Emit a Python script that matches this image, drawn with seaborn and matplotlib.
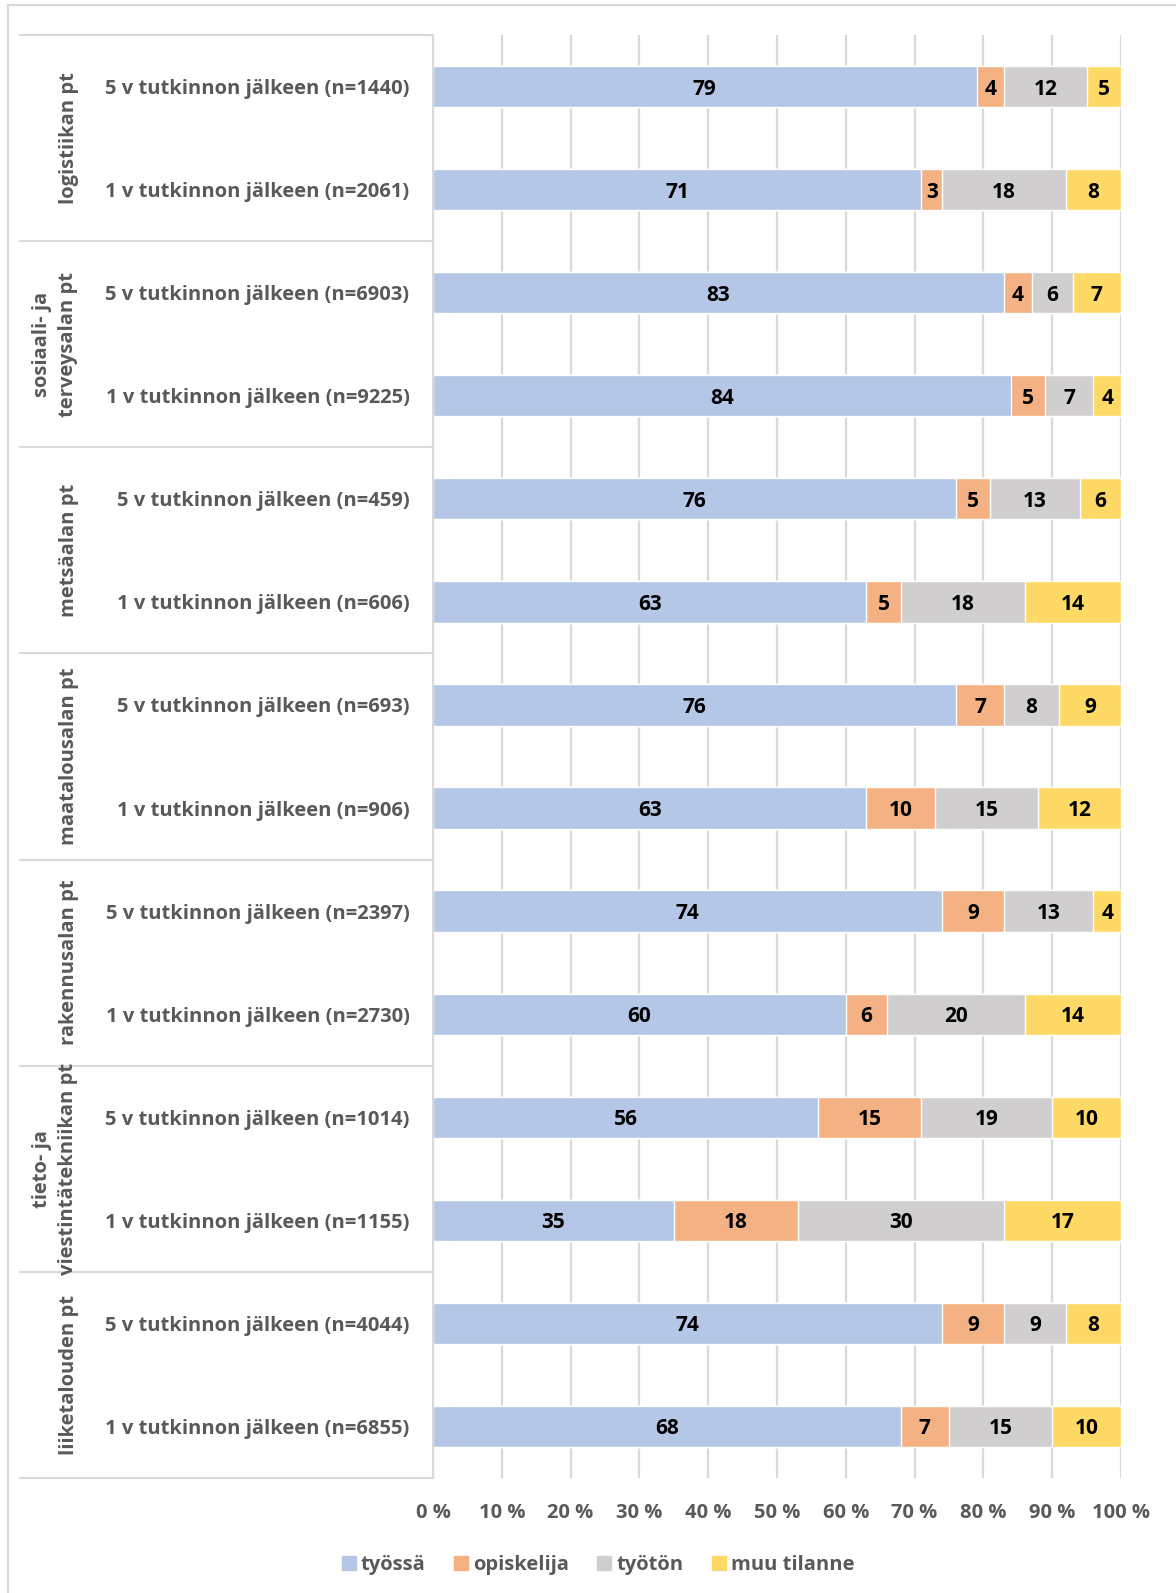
import matplotlib.pyplot as plt
import pandas as pd
import seaborn as sns
from matplotlib.lines import Line2D
from matplotlib.patches import Patch

groups = ['logistiikan pt', 'sosiaali- ja\nterveysalan pt', 'metsäalan pt', 'maatalousalan pt',
          'rakennusalan pt', 'tieto- ja\nviestintätekniikan pt', 'liiketalouden pt']
rows = ['5 v tutkinnon jälkeen (n=1440)', '1 v tutkinnon jälkeen (n=2061)',
        '5 v tutkinnon jälkeen (n=6903)', '1 v tutkinnon jälkeen (n=9225)',
        '5 v tutkinnon jälkeen (n=459)', '1 v tutkinnon jälkeen (n=606)',
        '5 v tutkinnon jälkeen (n=693)', '1 v tutkinnon jälkeen (n=906)',
        '5 v tutkinnon jälkeen (n=2397)', '1 v tutkinnon jälkeen (n=2730)',
        '5 v tutkinnon jälkeen (n=1014)', '1 v tutkinnon jälkeen (n=1155)',
        '5 v tutkinnon jälkeen (n=4044)', '1 v tutkinnon jälkeen (n=6855)']
tyossa = [79, 71, 83, 84, 76, 63, 76, 63, 74, 60, 56, 35, 74, 68]
opiskelija = [4, 3, 4, 5, 5, 5, 7, 10, 9, 6, 15, 18, 9, 7]
tyoton = [12, 18, 6, 7, 13, 18, 8, 15, 13, 20, 19, 30, 9, 15]
muu = [5, 8, 7, 4, 6, 14, 9, 12, 4, 14, 10, 17, 8, 10]

series = ['työssä', 'opiskelija', 'työtön', 'muu tilanne']
colors = ['#B4C7E7', '#F4B183', '#D0CECE', '#FFD966']
grid_col = '#D9D9D9'
txt_col = '#595959'
FS = 14.5

sns.set_style('white')
plt.rcParams['font.family'] = ['Open Sans', 'DejaVu Sans']
plt.rcParams['font.weight'] = 'bold'

df = pd.DataFrame({'row': rows, 'työssä': tyossa, 'opiskelija': opiskelija,
                   'työtön': tyoton, 'muu tilanne': muu})
cum = df[series].cumsum(axis=1)

fig = plt.figure(figsize=(11.76, 15.93), dpi=100)
W, H = 1176, 1593
ax = fig.add_axes([433 / W, 1 - 1478 / H, (1121 - 433) / W, (1478 - 35) / H])

# stacked bars: draw cumulative totals from the largest down
for i in range(len(series) - 1, -1, -1):
    sns.barplot(x=cum[series[i]], y=df['row'], order=rows, orient='h', color=colors[i],
                saturation=1, width=0.4, errorbar=None, ax=ax, zorder=2)

for r in range(len(rows)):
    left = 0
    for s in series:
        v = df.loc[r, s]
        ax.text(left + v / 2, r, str(v), ha='center', va='center_baseline', fontsize=FS + 0.5,
                fontweight='bold', color='black', zorder=3)
        left += v

ax.set_xlim(0, 100)
ax.set_ylim(len(rows) - 0.5, -0.5)
ax.set_xticks(range(0, 101, 10))
ax.set_xticklabels([f'{t} %' for t in range(0, 101, 10)])
ax.set_xlabel('')
ax.set_ylabel('')
ax.grid(axis='x', color=grid_col, linewidth=1.6, zorder=0)
ax.set_axisbelow(True)
for s in ['top', 'right', 'bottom']:
    ax.spines[s].set_visible(False)
ax.spines['left'].set_color(grid_col)
ax.spines['left'].set_linewidth(1.5)
ax.tick_params(axis='both', length=0, labelsize=FS, labelcolor=txt_col)
ax.tick_params(axis='y', pad=17)
ax.tick_params(axis='x', pad=18)
for lbl in ax.get_xticklabels() + ax.get_yticklabels():
    lbl.set_fontweight('bold')

# group separators and rotated group labels
for g in range(len(groups) + 1):
    ax.plot([-0.6, 0], [2 * g - 0.5, 2 * g - 0.5], transform=ax.get_yaxis_transform(),
            color=grid_col, linewidth=1.5, clip_on=False)
for g, name in enumerate(groups):
    xc = 55 if '\n' in name else 69
    ax.text((xc - 433) / (1121 - 433), 2 * g + 0.5, name, transform=ax.get_yaxis_transform(),
            rotation=90, ha='center', va='center', fontsize=FS, fontweight='bold',
            color=txt_col, linespacing=1.35, multialignment='center')

# outer chart border
fig.add_artist(Line2D([8 / W, 8 / W], [0, 1 - 5 / H], color=grid_col, linewidth=1.5))
fig.add_artist(Line2D([8 / W, 1], [1 - 5 / H, 1 - 5 / H], color=grid_col, linewidth=1.5))

handles = [Patch(color=c, label=s) for c, s in zip(colors, series)]
leg = fig.legend(handles=handles, loc='center', bbox_to_anchor=(598 / W, 1 - 1565 / H), ncol=4,
                 frameon=False, fontsize=FS, handlelength=0.7, handleheight=0.7,
                 handletextpad=0.25, columnspacing=1.4)
for t in leg.get_texts():
    t.set_color(txt_col)
    t.set_fontweight('bold')

fig.savefig('out.png', dpi=100)
